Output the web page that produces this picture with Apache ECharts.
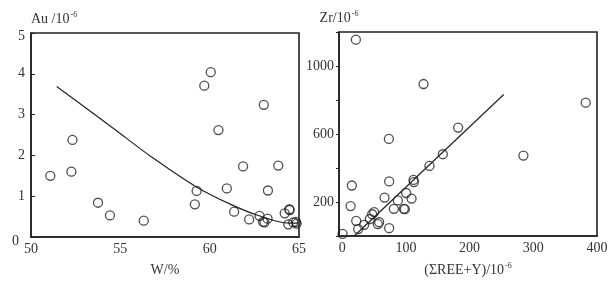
<!DOCTYPE html>
<html><head><meta charset="utf-8">
<script src="https://cdn.jsdelivr.net/npm/echarts@6/dist/echarts.min.js"></script>
<style>html,body{margin:0;padding:0;background:#fff}#c{width:616px;height:282px}</style>
</head><body><div id="c"></div>
<script>
// Left panel: W (%) vs Au (10^-6)
const auW = [60.06,59.70,63.03,60.49,52.32,51.08,52.26,53.75,54.42,56.31,59.27,59.17,60.96,61.87,61.37,62.21,62.79,62.99,63.07,63.24,63.26,63.84,64.20,64.46,64.48,64.40,64.68,64.83,64.87];
const auVal = [4.04,3.71,3.24,2.62,2.38,1.50,1.60,0.84,0.53,0.40,1.13,0.80,1.19,1.73,0.62,0.43,0.52,0.37,0.36,0.45,1.14,1.75,0.58,0.68,0.66,0.31,0.36,0.37,0.33];
const auCurveX = [51.44,54.62,56.69,59.21,61.18,62.77,64.46,64.93];
const auCurveY = [3.69,2.66,1.98,1.24,0.80,0.52,0.34,0.34];
// Right panel: ΣREE+Y (10^-6) vs Zr (10^-6)
const reeVal = [21.5,127.7,382.3,182,73.3,284.5,158,137,112,112.5,73.7,15.2,100.4,66.5,108.9,87.4,13.2,81.1,96.8,98.4,50.2,47.1,43.5,22,58,56,34.5,25.1,73.7,0.6];
const zrVal = [1155,894,784,638,571,473,481,412,330,317,321,297,253,226,220,209,176,160,160,158,141,128,100,89,81,70,66,41,46,12];
const zrLineX = [19,253.6];
const zrLineY = [0,832];
const leftXTicks = [50,55,60,65];
const leftYTicks = [0,1,2,3,4,5];
const rightXTicks = [0,100,200,300,400];
const rightYLabels = [200,600,1000];

const FONT = 'Liberation Serif';
const INK = '#222';
const TXT = '#333';
const zip = (a,b)=>a.map((v,i)=>[v,b[i]]);

const chart = echarts.init(document.getElementById('c'), null, {renderer:'canvas'});
const axisLine = {show:true, onZero:false, lineStyle:{color:INK, width:1.6}};
const nameRich = {
  a:{fontFamily:FONT,fontSize:14,color:TXT,lineHeight:16},
  s:{fontFamily:FONT,fontSize:8,color:TXT,verticalAlign:'top',lineHeight:16,padding:[0,0,6,1]}
};
chart.setOption({
  animation:false,
  backgroundColor:'#fff',
  grid:[
    {left:31, top:33, width:268, height:205, show:true, borderColor:INK, borderWidth:1.6, backgroundColor:'transparent'},
    {left:339, top:32, width:258, height:206, show:true, borderColor:INK, borderWidth:1.6, backgroundColor:'transparent'}
  ],
  xAxis:[
    {gridIndex:0, type:'value', min:50, max:65, interval:5,
     axisLine:axisLine, axisTick:{show:false}, splitLine:{show:false},
     axisLabel:{fontFamily:FONT,fontSize:14,color:TXT,margin:5,
       formatter:v=>leftXTicks.includes(v)?String(v):''},
     name:'W/%', nameLocation:'middle', nameGap:26,
     nameTextStyle:{fontFamily:FONT,fontSize:14,color:TXT}},
    {gridIndex:1, type:'value', min:-5, max:400,
     axisLine:axisLine, axisTick:{show:false}, splitLine:{show:false},
     axisLabel:{fontFamily:FONT,fontSize:14,color:TXT,margin:5,customValues:rightXTicks,
       formatter:v=>String(v)},
     name:'(\u03A3REE+Y)/10{s|-6}', nameLocation:'middle', nameGap:26,
     nameTextStyle:{fontFamily:FONT,fontSize:14,color:TXT,rich:nameRich}}
  ],
  yAxis:[
    {gridIndex:0, type:'value', min:0, max:5, interval:1,
     axisLine:axisLine, axisTick:{show:true, inside:true, length:4, lineStyle:{color:INK}}, splitLine:{show:false},
     axisLabel:{fontFamily:FONT,fontSize:14,color:TXT,margin:6,
       formatter:v=>leftYTicks.includes(v)?(v===0?'{z|0}':(v===5?'{f|5}':String(v))):'',
       rich:{z:{fontFamily:FONT,fontSize:14,color:TXT,padding:[8,6,0,0]},
             f:{fontFamily:FONT,fontSize:14,color:TXT,padding:[6,0,0,0]}}},
     name:'{a|Au /10}{s|-6}', nameLocation:'end', nameGap:6,
     nameTextStyle:{align:'left',rich:nameRich}},
    {gridIndex:1, type:'value', min:0, max:1200, interval:200,
     axisLine:axisLine, axisTick:{show:true, inside:false, length:3, lineStyle:{color:INK}}, splitLine:{show:false},
     axisLabel:{fontFamily:FONT,fontSize:14,color:TXT,margin:5,
       formatter:v=>rightYLabels.includes(v)?String(v):''},
     name:'{a|Zr/10}{s|-6}', nameLocation:'end', nameGap:6,
     nameTextStyle:{align:'center',rich:nameRich}}
  ],
  series:[
    {type:'scatter', xAxisIndex:0, yAxisIndex:0, data:zip(auW,auVal), symbol:'circle', symbolSize:9,
     itemStyle:{color:'rgba(255,255,255,0)', borderColor:INK, borderWidth:1.3}},
    {type:'line', xAxisIndex:0, yAxisIndex:0, data:zip(auCurveX,auCurveY), smooth:0.35, showSymbol:false,
     lineStyle:{color:INK, width:1.2}},
    {type:'scatter', xAxisIndex:1, yAxisIndex:1, data:zip(reeVal,zrVal), symbol:'circle', symbolSize:9,
     itemStyle:{color:'rgba(255,255,255,0)', borderColor:INK, borderWidth:1.3}},
    {type:'line', xAxisIndex:1, yAxisIndex:1, data:zip(zrLineX,zrLineY), showSymbol:false,
     lineStyle:{color:INK, width:1.2}}
  ]
});
</script></body></html>
